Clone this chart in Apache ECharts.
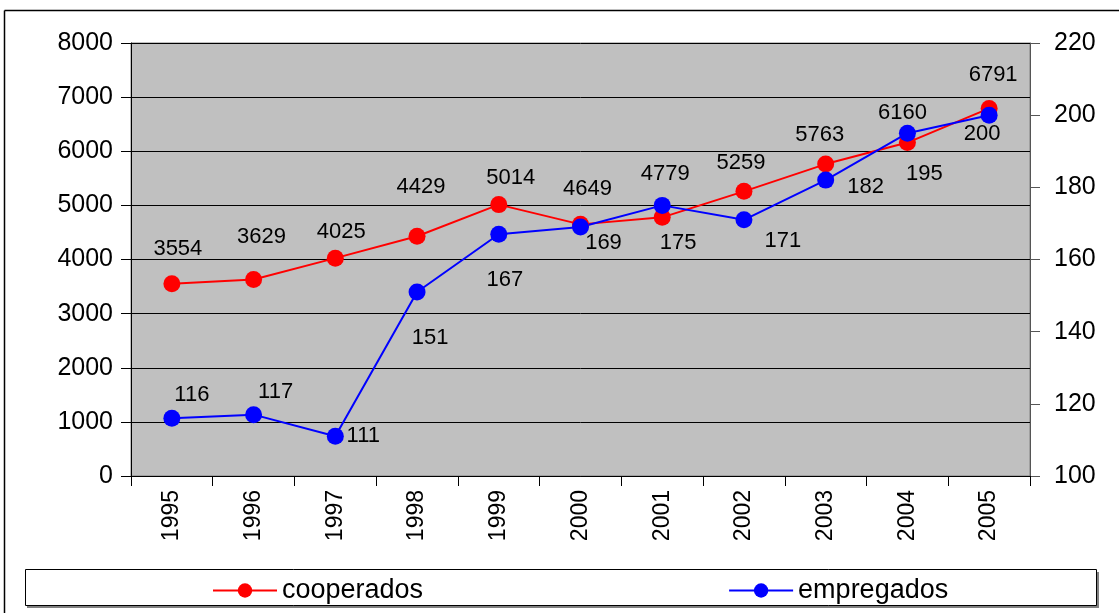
<!DOCTYPE html>
<html>
<head>
<meta charset="utf-8">
<script src="https://cdn.jsdelivr.net/npm/echarts@6/dist/echarts.min.js"></script>
<style>
  html, body { margin: 0; padding: 0; background: #fff; }
  #chart { width: 1119px; height: 613px; }
</style>
</head>
<body>
<div id="chart"></div>
<script>
const years = ['1995', '1996', '1997', '1998', '1999', '2000', '2001', '2002', '2003', '2004', '2005']
const cooperados = [3554, 3629, 4025, 4429, 5014, 4649, 4779, 5259, 5763, 6160, 6791]
const empregados = [116, 117, 111, 151, 167, 169, 175, 171, 182, 195, 200]

// label offsets (pixels from the marker centre)
const coopOffsets = [[6, -35], [8, -43], [6, -26], [4, -49], [12, -27], [7, -35], [3, -43], [-3, -28], [-6, -29], [-5, -30], [4, -33]]
const empOffsets = [[20, -23], [22, -23], [28, 0], [13, 46], [6, 46], [23, 16], [16, 38], [39, 21], [40, 7], [17, 41], [-7, 19]]

const FONT = 'Liberation Sans'

const withLabels = (values, offsets) => values.map((v, i) => ({
  value: v,
  label: { offset: offsets[i] }
}))

const chart = echarts.init(document.getElementById('chart'))

chart.setOption({
  animation: false,
  textStyle: { fontFamily: FONT },
  grid: {
    left: 131,
    right: 89,
    top: 43,
    bottom: 137,
    show: true,
    backgroundColor: '#c0c0c0',
    borderColor: '#808080',
    borderWidth: 1
  },
  legend: {
    left: 207,
    top: 572,
    itemGap: 305,
    itemWidth: 64,
    itemHeight: 18,
    textStyle: { fontFamily: FONT, fontSize: 27, color: '#000' },
    data: ['cooperados', 'empregados']
  },
  xAxis: {
    type: 'category',
    data: years,
    axisLine: { lineStyle: { color: '#000', width: 1 } },
    axisTick: { show: true, length: 10, lineStyle: { color: '#000' } },
    axisLabel: {
      rotate: 90,
      margin: 14,
      fontFamily: FONT,
      fontSize: 23,
      color: '#000'
    },
    splitLine: { show: false }
  },
  yAxis: [
    {
      type: 'value',
      min: 0,
      max: 8000,
      interval: 1000,
      axisLine: { show: true, lineStyle: { color: '#000' } },
      axisTick: { show: true, length: 10, lineStyle: { color: '#000' } },
      axisLabel: { margin: 18, fontFamily: FONT, fontSize: 25, color: '#000', formatter: v => String(v) },
      splitLine: { show: true, lineStyle: { color: '#000', width: 1 } }
    },
    {
      type: 'value',
      min: 100,
      max: 220,
      interval: 20,
      position: 'right',
      axisLine: { show: true, lineStyle: { color: '#555' } },
      axisTick: { show: true, length: 10, lineStyle: { color: '#555' } },
      axisLabel: { margin: 24, fontFamily: FONT, fontSize: 25, color: '#000' },
      splitLine: { show: false }
    }
  ],
  series: [
    {
      name: 'cooperados',
      type: 'line',
      yAxisIndex: 0,
      data: withLabels(cooperados, coopOffsets),
      symbol: 'circle',
      symbolSize: 17,
      itemStyle: { color: '#ff0000' },
      lineStyle: { color: '#ff0000', width: 2 },
      label: {
        show: true,
        position: 'inside',
        fontFamily: FONT,
        fontSize: 22,
        color: '#000'
      }
    },
    {
      name: 'empregados',
      type: 'line',
      yAxisIndex: 1,
      data: withLabels(empregados, empOffsets),
      symbol: 'circle',
      symbolSize: 17,
      itemStyle: { color: '#0000ff' },
      lineStyle: { color: '#0000ff', width: 2 },
      label: {
        show: true,
        position: 'inside',
        fontFamily: FONT,
        fontSize: 22,
        color: '#000'
      }
    }
  ],
  graphic: [
    // outer frame
    { type: 'line', shape: { x1: 4.5, y1: 10.5, x2: 4.5, y2: 613 }, style: { stroke: '#000', lineWidth: 1.5 } },
    { type: 'line', shape: { x1: 4.5, y1: 10.5, x2: 1119, y2: 10.5 }, style: { stroke: '#000', lineWidth: 1.5 } },
    // legend box with shadow
    { type: 'rect', shape: { x: 27, y: 572, width: 1072, height: 36 }, style: { fill: '#808080' }, z: -1 },
    { type: 'rect', shape: { x: 25.5, y: 569.5, width: 1071, height: 36 }, style: { fill: '#fff', stroke: '#000', lineWidth: 1 }, z: -1 }
  ]
})
</script>
</body>
</html>
